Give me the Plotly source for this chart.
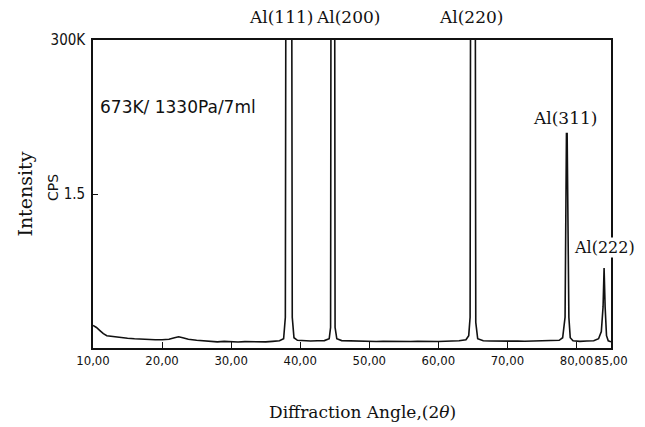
import plotly.graph_objects as go

# Diffraction pattern (2theta in degrees, intensity in units of 100K CPS)
two_theta = [
    10.0, 10.5, 11.0, 11.5, 12.0, 13.0, 14.0, 15.0, 16.0, 17.0, 18.0, 19.0,
    20.0, 21.0, 21.8, 22.4, 23.0, 23.8, 25.0, 26.0, 27.0, 28.0, 29.0, 30.0,
    31.0, 32.0, 33.0, 34.0, 35.0, 36.0, 37.0, 37.6, 37.85, 37.98, 38.72, 38.85,
    39.1, 39.6, 40.5, 41.5, 42.5, 43.5, 44.2, 44.4, 44.5, 44.95, 45.05, 45.3,
    46.0, 47.0, 48.0, 49.0, 50.0, 51.0, 52.0, 53.0, 54.0, 55.0, 56.0, 57.0,
    58.0, 59.0, 60.0, 61.0, 62.0, 63.0, 64.0, 64.4, 64.6, 64.72, 65.3, 65.42,
    65.7, 66.5, 67.5, 68.5, 69.5, 70.5, 71.5, 72.5, 73.5, 74.5, 75.5, 76.5,
    77.5, 78.0, 78.35, 78.55, 78.65, 78.9, 79.1, 79.5, 80.5, 81.5, 82.5, 83.2,
    83.6, 83.85, 84.0, 84.15, 84.35, 84.6, 85.0,
]
intensity = [
    0.22, 0.20, 0.17, 0.14, 0.12, 0.11, 0.10, 0.095, 0.09, 0.085, 0.08, 0.08,
    0.08, 0.085, 0.10, 0.11, 0.10, 0.085, 0.075, 0.07, 0.065, 0.06, 0.065, 0.06,
    0.058, 0.062, 0.06, 0.062, 0.06, 0.065, 0.07, 0.09, 0.3, 6.0, 6.0, 0.3,
    0.1, 0.075, 0.07, 0.068, 0.07, 0.072, 0.09, 0.2, 6.0, 6.0, 0.2, 0.09,
    0.072, 0.07, 0.065, 0.068, 0.065, 0.063, 0.066, 0.064, 0.062, 0.065, 0.063, 0.066,
    0.064, 0.065, 0.063, 0.066, 0.068, 0.07, 0.08, 0.12, 0.3, 6.0, 6.0, 0.25,
    0.09, 0.07, 0.068, 0.066, 0.068, 0.065, 0.067, 0.066, 0.068, 0.07, 0.068, 0.07,
    0.075, 0.1, 0.3, 2.09, 2.09, 0.3, 0.1, 0.07, 0.065, 0.068, 0.07, 0.09,
    0.16, 0.4, 0.78, 0.4, 0.12, 0.07, 0.06,
]

x_tickvals = [10, 20, 30, 40, 50, 60, 70, 80, 85]
x_ticktext = ["10,00", "20,00", "30,00", "40,00", "50,00", "60,00", "70,00", "80,00", "85,00"]
y_tickvals = [1.5, 3.0]
y_ticktext = ["1.5", "300K"]

peak_labels = ["Al(111)", "Al(200)", "Al(220)", "Al(311)", "Al(222)"]
peak_label_x = [37.2, 46.9, 64.7, 78.3, 84.1]
peak_label_y = [None, None, None, 2.24, 0.98]
peak_label_size = [17, 17, 17, 17, 16]

SERIF = "DejaVu Serif, serif"
NARROW = "Liberation Sans Narrow, DejaVu Sans Condensed, Arial Narrow, sans-serif"
INK = "#111111"

fig = go.Figure()
fig.add_trace(go.Scatter(
    x=two_theta, y=intensity, mode="lines",
    line=dict(color=INK, width=1.6), showlegend=False, hoverinfo="skip",
))

ann = []
for lbl, xv, yv, fs in zip(peak_labels, peak_label_x, peak_label_y, peak_label_size):
    if yv is None:
        ann.append(dict(x=xv, y=1.075, xref="x", yref="paper", text=lbl, showarrow=False,
                        font=dict(family=SERIF, size=fs, color=INK),
                        xanchor="center", yanchor="middle"))
    else:
        ann.append(dict(x=xv, y=yv, xref="x", yref="y", text=lbl, showarrow=False,
                        font=dict(family=SERIF, size=fs, color=INK),
                        xanchor="center", yanchor="middle", bgcolor="white", borderpad=0))
ann.append(dict(x=10.7, y=2.35, xref="x", yref="y", text="673K/ 1330Pa/7ml", showarrow=False,
                font=dict(family="DejaVu Sans, sans-serif", size=17, color=INK),
                xanchor="left", yanchor="middle"))
ann.append(dict(x=-0.077, y=1.56, xref="paper", yref="y", text="CPS", showarrow=False, textangle=-90,
                font=dict(family="DejaVu Sans, sans-serif", size=14, color=INK),
                xanchor="center", yanchor="middle"))
ann.append(dict(x=-0.132, y=0.5, xref="paper", yref="paper", text="Intensity", showarrow=False,
                textangle=-90,
                font=dict(family=SERIF, size=19, color=INK), xanchor="center", yanchor="middle"))
ann.append(dict(x=0.521, y=-0.208, xref="paper", yref="paper", text="Diffraction Angle,(2<i>θ</i>)",
                showarrow=False, font=dict(family=SERIF, size=17, color=INK),
                xanchor="center", yanchor="middle"))

# page body has an 8px default margin, so the figure is shifted by 8px
fig.update_layout(
    width=637, height=419,
    margin=dict(l=85, r=34, t=32, b=79, autoexpand=False),
    paper_bgcolor="white", plot_bgcolor="white",
    xaxis=dict(range=[10, 85], tickmode="array", tickvals=x_tickvals, ticktext=x_ticktext,
               tickangle=0, automargin=False,
               ticks="inside", ticklen=6, tickwidth=1.2, tickcolor=INK,
               showline=True, linecolor=INK, linewidth=1.6, mirror=True,
               showgrid=False, zeroline=False,
               tickfont=dict(family=NARROW, size=13, color=INK)),
    yaxis=dict(range=[0, 3], tickmode="array", tickvals=y_tickvals, ticktext=y_ticktext,
               automargin=False,
               ticks="inside", ticklen=5, tickwidth=1.2, tickcolor=INK,
               showline=True, linecolor=INK, linewidth=1.6, mirror=True,
               showgrid=False, zeroline=False, ticklabelstandoff=3,
               tickfont=dict(family=NARROW, size=15, color=INK)),
    annotations=ann,
)

fig.write_html("out.html")
